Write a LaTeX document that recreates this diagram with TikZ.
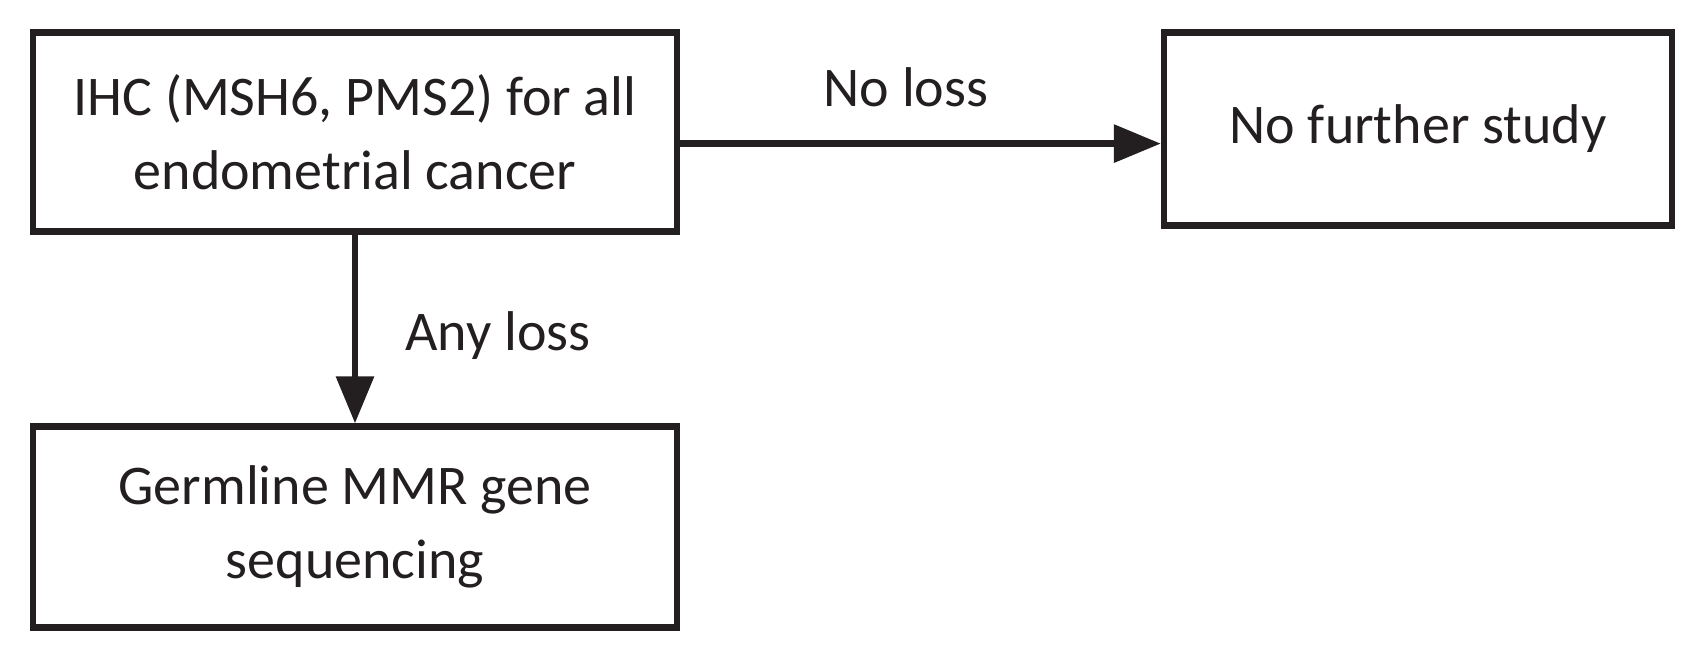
\documentclass[tikz,border=0pt]{standalone}
\usepackage{fontspec}
\setmainfont{Carlito}
\usepackage{xcolor}
\usetikzlibrary{positioning,arrows.meta}
\definecolor{ink}{HTML}{231F20}
\tikzset{
  box/.style={draw=ink, text=ink, line width=3.2pt, align=center, inner sep=0pt,
              minimum width=322pt, minimum height=99.5pt,
              font=\fontsize{28}{37}\selectfont},
  flow/.style={draw=ink, line width=3.2pt, -{Triangle[length=23.5pt, width=18.5pt]}},
  lbl/.style={text=ink, inner sep=0pt, font=\fontsize{28}{34}\selectfont},
}
\begin{document}
\begin{tikzpicture}[x=0.5pt,y=-0.5pt]
    \useasboundingbox (0,0) rectangle (1706,660);

    %% ---------- caixas ----------
    \node[box] (boxIhc) at (355,132) {IHC (MSH6, PMS2) for all\\endometrial cancer};
    \node[box, minimum width=254pt, minimum height=96.5pt] (boxNone) at (1418,129) {No further study};
    \node[box, minimum height=100.5pt] (boxSeq) at (355,527) {Germline MMR gene\\sequencing};

    %% ---------- setas ----------
    \draw[flow] ([yshift=-5.8pt]boxIhc.east) -- ([yshift=-5.8pt]boxIhc.east -| boxNone.west);
    \draw[flow] (boxIhc.south) -- (boxSeq.north);

    %% ---------- rotulos ----------
    \node[lbl] (lblNo)  at (906,87)  {No loss};
    \node[lbl] (lblAny) at (498,336) {Any loss};

\end{tikzpicture}
\end{document}
